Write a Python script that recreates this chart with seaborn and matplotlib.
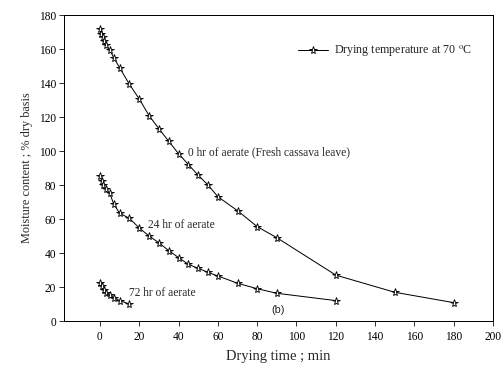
import matplotlib
matplotlib.use("Agg")
import matplotlib.pyplot as plt
from matplotlib.lines import Line2D
import seaborn as sns
import pandas as pd

# Data
t0 = [0, 0.5, 1.5, 2, 3, 5, 7, 10, 15, 20, 25, 30, 35, 40, 45, 50, 55, 60, 70, 80, 90, 120, 150, 180]
m0 = [171.6, 169, 167, 164.5, 162.5, 159.4, 155, 149, 139.2, 130.6, 120.8, 113.1, 105.7, 98.4, 92,
      85.7, 80, 73.1, 64.9, 55.5, 49, 27, 16.9, 10.8]
t24 = [0, 1, 1.5, 3, 5, 7, 10, 15, 20, 25, 30, 35, 40, 45, 50, 55, 60, 70, 80, 90, 120]
m24 = [85.3, 82.5, 80, 77.6, 75.1, 68.8, 63.4, 60.4, 54.7, 50, 46, 41.4, 37.3, 33.3, 31, 28.6,
       26.5, 22.2, 19, 16.3, 12]
t72 = [0, 1, 2, 3, 5, 7, 10, 15]
m72 = [22.5, 20.6, 18.4, 16.7, 15.3, 13.7, 12, 10]
series_names = ["0 hr of aerate (Fresh cassava leave)", "24 hr of aerate", "72 hr of aerate"]
legend_label = "Drying temperature at 70 $^{\\rm o}$C"
x_ticks = list(range(0, 201, 20))
y_ticks = list(range(0, 181, 20))

rows = []
for name, ts, ms in zip(series_names, [t0, t24, t72], [m0, m24, m72]):
    for t, m in zip(ts, ms):
        rows.append({"time": t, "moisture": m, "series": name})
df = pd.DataFrame(rows)

sns.set_style("ticks")
plt.rcParams["font.family"] = ["Liberation Serif", "DejaVu Serif"]
plt.rcParams["mathtext.fontset"] = "stix"

fig = plt.figure(figsize=(7, 372 / 72), dpi=72)
ax = fig.add_axes([64 / 504, 1 - 321 / 372, (493 - 64) / 504, (321 - 15) / 372])

sns.lineplot(data=df, x="time", y="moisture", hue="series", palette=["black"] * 3,
             sort=False, legend=False, ax=ax, linewidth=1.0,
             marker="*", markersize=8, markerfacecolor="white",
             markeredgecolor="black", markeredgewidth=0.9)

ax.set_xlim(-18.3, 200)
ax.set_ylim(0, 180)
ax.set_xticks(x_ticks)
ax.set_yticks(y_ticks)
ax.tick_params(direction="out", length=5, width=0.8, labelsize=11.5, colors="black")
ax.tick_params(axis="x", pad=5)
ax.tick_params(axis="y", pad=3)
for s in ax.spines.values():
    s.set_visible(True)
    s.set_linewidth(1.0)
    s.set_color("black")

ax.set_xlabel("Drying time ; min", fontsize=14.5, labelpad=7)
ax.set_ylabel("Moisture content ; % dry basis", fontsize=12.3, labelpad=6)

ax.text(45.0, 99, series_names[0], fontsize=11.5, va="center", ha="left")
ax.text(24.4, 56.5, series_names[1], fontsize=11.5, va="center", ha="left")
ax.text(15.0, 16.5, series_names[2], fontsize=11.5, va="center", ha="left")
ax.text(90.6, 6.5, "(b)", fontsize=11, va="center", ha="center", family="Liberation Sans")

h = Line2D([], [], color="black", linewidth=1.0, marker="*", markersize=8,
           markerfacecolor="white", markeredgecolor="black", markeredgewidth=0.9)
ax.legend([h], [legend_label], loc="center left", bbox_to_anchor=(0.52, 0.882),
          frameon=False, fontsize=12, handlelength=2.5, handletextpad=0.5)

fig.savefig("out.png", dpi=72, facecolor="white")
